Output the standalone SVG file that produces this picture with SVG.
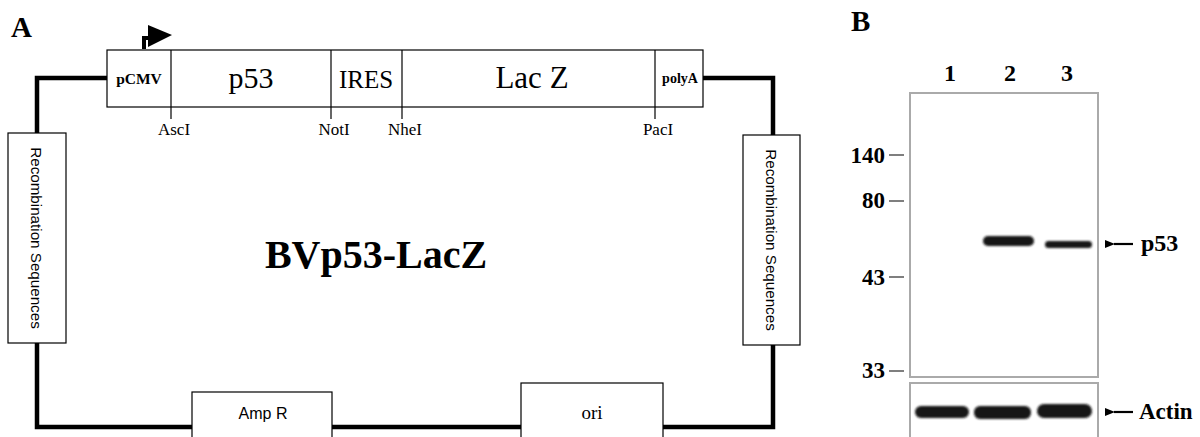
<svg xmlns="http://www.w3.org/2000/svg" width="1200" height="437" viewBox="0 0 1200 437">
<style>
.box{fill:#fff;stroke:#000;stroke-width:1.2}
.wire{fill:none;stroke:#000;stroke-width:4.5;stroke-linejoin:miter}
.tick{stroke:#000;stroke-width:1.2}
.serif{font-family:"Liberation Serif","Times New Roman",serif;fill:#000}
.sans{font-family:"Liberation Sans",Arial,sans-serif;fill:#000}
.b{font-weight:bold}
.gel{fill:#fff;stroke:#aaa;stroke-width:2}
.mk{stroke:#555;stroke-width:1.5}
.band{fill:#151515;filter:url(#blur)}
</style>
<defs>
<marker id="ah" markerWidth="10" markerHeight="8" refX="1" refY="4" orient="auto" markerUnits="userSpaceOnUse">
<path d="M10,0 L0,4 L10,8 Z" fill="#000"/>
</marker>
<filter id="blur" x="-10%" y="-50%" width="120%" height="200%">
<feGaussianBlur stdDeviation="1"/>
</filter>
</defs>
<rect width="1200" height="437" fill="#fff"/>

<text class="serif b" x="11" y="37" font-size="29">A</text>
<text class="serif b" x="851" y="31" font-size="29">B</text>

<g id="connectors">
<path class="wire" d="M107,78 H37 V133"/>
<path class="wire" d="M37,343 V427 H192"/>
<path class="wire" d="M332,427 H521"/>
<path class="wire" d="M663,427 H773 V345"/>
<path class="wire" d="M773,135 V78 H703"/>
</g>

<g id="promoter">
<path d="M144,49 V38 H152" fill="none" stroke="#000" stroke-width="4"/>
<path d="M148,25 L172,35 L148,47 Z" fill="#000"/>
</g>

<g id="cassette">
<rect class="box" x="107" y="50" width="596" height="57"/>
<line class="tick" x1="171" y1="50" x2="171" y2="119"/>
<line class="tick" x1="331" y1="50" x2="331" y2="119"/>
<line class="tick" x1="402" y1="50" x2="402" y2="119"/>
<line class="tick" x1="655" y1="50" x2="655" y2="119"/>
<text class="serif b" x="139" y="84" font-size="15.5" text-anchor="middle">pCMV</text>
<text class="serif" x="251" y="88" font-size="30" text-anchor="middle">p53</text>
<text class="serif" x="366" y="88" font-size="25" text-anchor="middle">IRES</text>
<text class="serif" x="532" y="88" font-size="31" text-anchor="middle">Lac Z</text>
<text class="serif b" x="680" y="83" font-size="14" text-anchor="middle">polyA</text>
<text class="serif" x="174" y="135" font-size="17" text-anchor="middle">AscI</text>
<text class="serif" x="334" y="135" font-size="17" text-anchor="middle">NotI</text>
<text class="serif" x="405" y="135" font-size="17" text-anchor="middle">NheI</text>
<text class="serif" x="658" y="135" font-size="17" text-anchor="middle">PacI</text>
</g>

<g id="recomb-left">
<rect class="box" x="8" y="133" width="58" height="210"/>
<text class="sans" font-size="15.2" text-anchor="middle" transform="translate(31,238) rotate(90)">Recombination Sequences</text>
</g>
<g id="recomb-right">
<rect class="box" x="743" y="135" width="57" height="210"/>
<text class="sans" font-size="15.2" text-anchor="middle" transform="translate(766,240) rotate(90)">Recombination Sequences</text>
</g>

<g id="ampr">
<rect class="box" x="192" y="392" width="140" height="60"/>
<text class="sans" x="263" y="419" font-size="16" text-anchor="middle">Amp R</text>
</g>
<g id="ori">
<rect class="box" x="521" y="383" width="142" height="70"/>
<text class="serif" x="592" y="419" font-size="19" text-anchor="middle">ori</text>
</g>

<text class="serif b" x="376" y="268" font-size="40" text-anchor="middle">BVp53-LacZ</text>

<g id="blot">
<text class="serif b" x="950" y="81" font-size="24" text-anchor="middle">1</text>
<text class="serif b" x="1010" y="81" font-size="24" text-anchor="middle">2</text>
<text class="serif b" x="1067" y="81" font-size="24" text-anchor="middle">3</text>
<rect class="gel" x="910" y="93" width="188" height="284"/>
<rect class="gel" x="910" y="383" width="188" height="70"/>
<text class="serif b" x="885" y="163" font-size="23" text-anchor="end">140</text>
<line class="mk" x1="889" y1="155" x2="904" y2="155"/>
<text class="serif b" x="885" y="208" font-size="23" text-anchor="end">80</text>
<line class="mk" x1="889" y1="201" x2="904" y2="201"/>
<text class="serif b" x="885" y="285" font-size="23" text-anchor="end">43</text>
<line class="mk" x1="889" y1="277" x2="904" y2="277"/>
<text class="serif b" x="885" y="378" font-size="23" text-anchor="end">33</text>
<line class="mk" x1="889" y1="371" x2="904" y2="371"/>
<rect class="band" x="983" y="236" width="51" height="10" rx="5"/>
<rect class="band" x="1045" y="241" width="47" height="7" rx="3.5"/>
<rect class="band" x="915" y="406" width="54" height="12" rx="6"/>
<rect class="band" x="974" y="406" width="57" height="13" rx="6"/>
<rect class="band" x="1037" y="404" width="55" height="14" rx="7"/>
<line x1="1133" y1="244" x2="1114" y2="244" stroke="#000" stroke-width="2.2" marker-end="url(#ah)"/>
<text class="serif b" x="1141" y="251" font-size="24">p53</text>
<line x1="1133" y1="412" x2="1114" y2="412" stroke="#000" stroke-width="2.2" marker-end="url(#ah)"/>
<text class="serif b" x="1139" y="419" font-size="23">Actin</text>
</g>
</svg>
